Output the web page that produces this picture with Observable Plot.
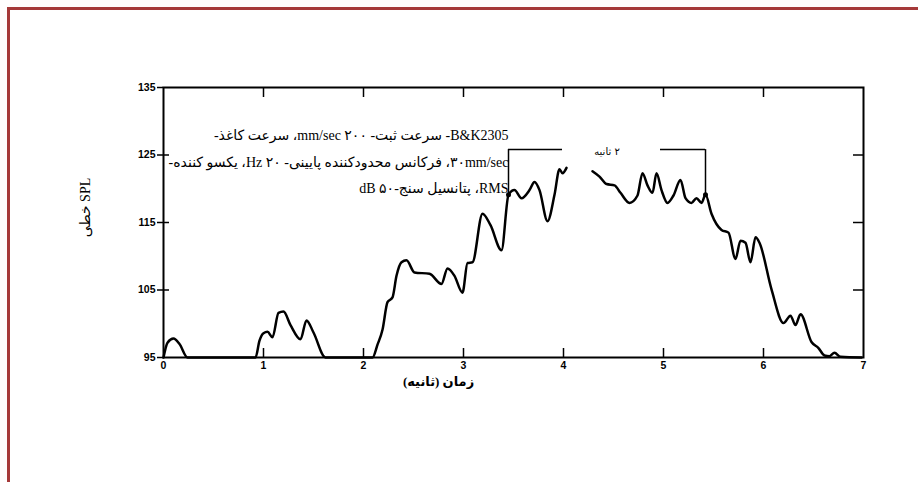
<!DOCTYPE html>
<html><head><meta charset="utf-8">
<script src="https://cdn.jsdelivr.net/npm/d3@7"></script>
<script src="https://cdn.jsdelivr.net/npm/@observablehq/plot@0.6"></script>
<style>
html,body{margin:0;padding:0;background:#fff;overflow:hidden;}
#wrap{position:relative;width:918px;height:482px;overflow:hidden;background:#fff;}
#chart{position:absolute;left:0;top:0;}
#page{position:absolute;left:0;top:0;pointer-events:none;}
#cover{position:absolute;left:880px;top:14px;width:38px;height:468px;background:#fff;}
</style></head><body><div id="wrap"><div id="chart"></div>
<svg id="page" width="918" height="482"><path d="M8.5,482V8.5H918" fill="none" stroke="#a53a3a" stroke-width="3"/></svg>
<div id="cover"></div>
</div>
<script>
// time (s)
const times = [0.00,0.04,0.10,0.16,0.24,0.92,0.96,1.00,1.04,1.09,1.15,1.20,1.27,1.37,1.43,1.50,1.62,
  2.09,2.14,2.19,2.24,2.29,2.33,2.38,2.43,2.51,2.66,2.78,2.84,2.91,2.99,3.04,3.09,3.19,3.27,3.38,
  3.45,3.51,3.58,3.66,3.71,3.76,3.84,3.91,3.96,3.99,4.03,4.15,
  4.29,4.36,4.43,4.51,4.57,4.66,4.74,4.79,4.84,4.89,4.93,4.98,5.04,5.10,5.17,5.22,5.28,5.33,5.38,5.42,
  5.48,5.58,5.65,5.72,5.77,5.82,5.87,5.92,5.96,6.08,6.20,6.27,6.32,6.37,6.48,6.55,6.61,6.66,6.71,6.77,6.98];
// SPL (dB); null = hidden behind the label box
const levels = [95,97.2,97.8,97.0,95,95,97.5,98.6,98.8,98.0,101.6,101.8,99.8,97.7,100.5,98.7,95,
  95,96.9,99.1,103.2,103.9,107.1,109.1,109.4,107.6,107.4,105.9,108.2,107.1,104.6,109.0,109.1,116.3,114.6,110.9,
  119.1,119.8,118.6,119.8,121.0,119.8,115.2,119.1,122.9,122.3,123.1,null,
  122.6,121.8,120.7,120.5,119.4,117.9,119.0,122.3,120.5,119.4,122.3,119.8,117.9,119.0,121.3,118.6,117.9,118.6,117.9,119.1,
  116.3,113.9,113.5,109.6,112.3,112.0,109.1,112.8,112.0,105.1,100.1,101.2,99.8,101.4,97.3,96.4,95.3,95.2,95.7,95.1,95];

const xTicks = [0,1,2,3,4,5,6,7];
const yTicks = [95,105,115,125,135];
const innerXTicks = [1,2,3,4,5,6];
const innerYTicks = [105,115,125];

const bracketT = [3.45, 5.42];
const bracketBase = [119.1, 119.1];
const bracketTop = 125.8;
const bracketLabelGap = [3.99, 4.97];
const bracketLabel = "۲ ثانیه";

const noteLines = [
  "B&K2305- سرعت ثبت- ۲۰۰ mm/sec، سرعت کاغذ-",
  "۳۰mm/sec، فرکانس محدودکننده پایینی- ۲۰ Hz، یکسو کننده-",
  "RMS، پتانسیل سنج-۵۰ dB"
];
const xLabel = "زمان (ثانیه)";
const yLabel = "SPL خطی";

const rtl = s => "\u202B" + s + "\u202C";
const data = times.map((t, i) => ({t, db: levels[i]}));
const serif = "'Liberation Serif','DejaVu Serif','DejaVu Sans',serif";

const plot = Plot.plot({
  width: 918, height: 482,
  marginLeft: 163, marginRight: 55, marginTop: 87, marginBottom: 125,
  style: {fontFamily: "'Liberation Sans', sans-serif", background: "transparent", color: "black"},
  x: {domain: [0, 7], label: null},
  y: {domain: [95, 135], label: null},
  marks: [
    Plot.axisX(xTicks, {tickSize: 0, tickPadding: 4, fontSize: 10.5, fontWeight: "bold", label: null}),
    Plot.axisY(yTicks, {tickSize: 6, tickPadding: 2, fontSize: 10.5, fontWeight: "bold", label: null, strokeWidth: 1.5}),
    Plot.tickX(innerXTicks, {x: d => d, insetTop: 261, strokeWidth: 1.5}),
    Plot.tickX(innerXTicks, {x: d => d, insetBottom: 260, strokeWidth: 1.5}),
    Plot.tickY(innerYTicks, {y: d => d, insetLeft: 690, strokeWidth: 1.5}),
    Plot.tickY(innerYTicks, {y: d => d, insetRight: 694, strokeWidth: 1.5}),
    Plot.frame({stroke: "black", strokeWidth: 2}),
    Plot.line(data, {x: "t", y: "db", curve: "monotone-x", stroke: "black", strokeWidth: 2.5}),
    Plot.ruleX(bracketT, {x: d => d, y1: (d, i) => bracketBase[i], y2: () => bracketTop, strokeWidth: 1.5}),
    Plot.ruleY([0, 1], {y: () => bracketTop, x1: [bracketT[0], bracketLabelGap[1]], x2: [bracketLabelGap[0], bracketT[1]], strokeWidth: 1.5}),
    Plot.dot(bracketT, {x: d => d, y: (d, i) => bracketBase[i], r: 2.5, fill: "black"}),
    Plot.text([rtl(bracketLabel)], {x: () => (bracketT[0] + bracketT[1]) / 2, y: () => bracketTop, dy: 2, fontSize: 10, fontFamily: "'DejaVu Sans',sans-serif", fill: "black"}),
    ...noteLines.map((s, i) => Plot.text([rtl(s)], {frameAnchor: "top-left", dx: 345, dy: 43 + i * 26.5, textAnchor: "end", fontSize: 14, fontFamily: serif, fill: "black"})),
    Plot.text([rtl(xLabel)], {frameAnchor: "bottom", dx: -75, dy: 28, fontSize: 13, fontWeight: "bold", fontFamily: serif, fill: "black"}),
    Plot.text([rtl(yLabel)], {frameAnchor: "left", textAnchor: "middle", rotate: -90, dx: -78, dy: -15, fontSize: 14, fontFamily: serif, fill: "black"})
  ]
});
document.getElementById("chart").appendChild(plot);
</script>
</body></html>
